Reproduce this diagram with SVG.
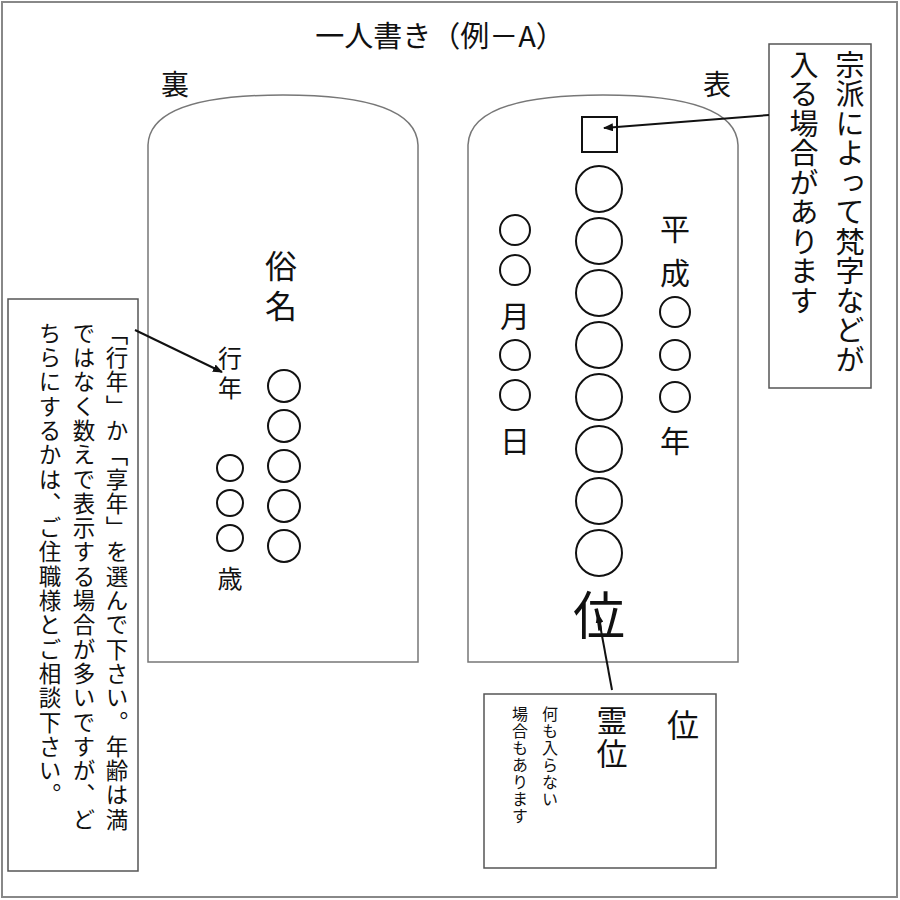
<svg xmlns="http://www.w3.org/2000/svg" width="900" height="900" viewBox="0 0 900 900">
<style>
text{font-family:"Noto Sans CJK JP","Noto Sans CJK SC",sans-serif;fill:#111;font-weight:400}
.v{writing-mode:vertical-rl}
.tab{fill:#fff;stroke:#777;stroke-width:1.5}
.c{fill:none;stroke:#111;stroke-width:2}
.box{fill:#fff;stroke:#555;stroke-width:1.5}
.ar{stroke:#111;stroke-width:2;fill:none;marker-end:url(#ah)}
</style>
<defs><marker id="ah" markerWidth="10" markerHeight="8" refX="9" refY="4" orient="auto" markerUnits="userSpaceOnUse"><path d="M0,0 L10,4 L0,8 Z" fill="#111"/></marker></defs>
<rect x="0" y="0" width="900" height="900" fill="#fff"/>
<rect x="2" y="2" width="895" height="895" fill="none" stroke="#888" stroke-width="2"/>
<text x="440" y="47" font-size="29" text-anchor="middle">一人書き（例－A）</text>
<text x="175" y="95" font-size="28" text-anchor="middle">裏</text>
<text x="717" y="95" font-size="28" text-anchor="middle">表</text>
<g id="back">
<path class="tab" d="M148,662 V145 Q150,95 283,95 Q416,95 418,145 V662 Z"/>
<text class="v" x="281" y="250" font-size="32" letter-spacing="8">俗名</text>
<text class="v" x="230" y="346" font-size="24" letter-spacing="6">行年</text>
<g class="c"><circle cx="284" cy="386" r="16"/><circle cx="284" cy="426" r="16"/><circle cx="284" cy="466" r="16"/><circle cx="284" cy="506" r="16"/><circle cx="284" cy="546" r="16"/>
<circle cx="230" cy="468" r="13"/><circle cx="230" cy="503" r="13"/><circle cx="230" cy="538" r="13"/></g>
<text x="230" y="588" font-size="25" text-anchor="middle">歳</text>
</g>
<g id="front">
<path class="tab" d="M468,662 V145 Q470,95 603,95 Q736,95 738,145 V662 Z"/>
<rect x="582" y="117" width="35" height="35" class="c"/>
<g class="c"><circle cx="599" cy="189" r="23"/><circle cx="599" cy="241" r="23"/><circle cx="599" cy="293" r="23"/><circle cx="599" cy="345" r="23"/><circle cx="599" cy="397" r="23"/><circle cx="599" cy="449" r="23"/><circle cx="599" cy="501" r="23"/><circle cx="599" cy="553" r="23"/>
<circle cx="515" cy="230" r="15"/><circle cx="515" cy="270" r="15"/><circle cx="515" cy="355" r="15"/><circle cx="515" cy="395" r="15"/>
<circle cx="675" cy="312" r="15"/><circle cx="675" cy="355" r="15"/><circle cx="675" cy="397" r="15"/></g>
<text x="599" y="635" font-size="52" text-anchor="middle">位</text>
<text x="515" y="327" font-size="30" text-anchor="middle">月</text>
<text x="515" y="452" font-size="30" text-anchor="middle">日</text>
<text x="675" y="240" font-size="30" text-anchor="middle">平</text>
<text x="675" y="284" font-size="30" text-anchor="middle">成</text>
<text x="675" y="452" font-size="30" text-anchor="middle">年</text>
</g>
<g id="note-top">
<rect class="box" x="769" y="44" width="102" height="344"/>
<text class="v" x="850" y="50" font-size="29" letter-spacing="0.5">宗派によって梵字などが</text>
<text class="v" x="804" y="50" font-size="29" letter-spacing="0.5">入る場合があります</text>
</g>
<g id="note-left">
<rect class="box" x="8" y="299" width="130" height="572"/>
<text class="v" x="117" y="322" font-size="22.5" letter-spacing="1.8">「行年」か「享年」を選んで下さい。年齢は満</text>
<text class="v" x="84" y="322" font-size="22.5" letter-spacing="1.8">ではなく数えで表示する場合が多いですが、ど</text>
<text class="v" x="50" y="322" font-size="22.5" letter-spacing="1.8">ちらにするかは、ご住職様とご相談下さい。</text>
</g>
<g id="note-bottom">
<rect class="box" x="484" y="694" width="232" height="174"/>
<text x="683" y="737" font-size="32" text-anchor="middle">位</text>
<text class="v" x="612" y="705" font-size="31" letter-spacing="2">霊位</text>
<text class="v" x="550" y="706" font-size="16" letter-spacing="1">何も入らない</text>
<text class="v" x="520" y="706" font-size="16" letter-spacing="1">場合もあります</text>
</g>
<g id="connectors">
<line class="ar" x1="769" y1="115" x2="604" y2="128"/>
<line class="ar" x1="135" y1="330" x2="222" y2="372"/>
<line class="ar" x1="612" y1="690" x2="598" y2="614"/>
</g>
</svg>
